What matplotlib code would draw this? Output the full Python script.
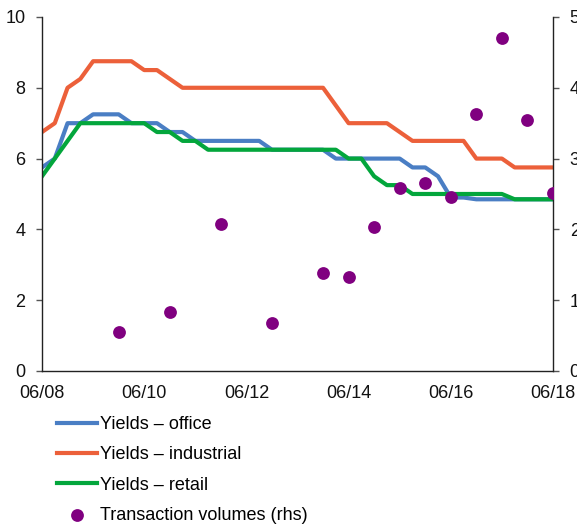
import matplotlib
matplotlib.use("Agg")
import matplotlib.pyplot as plt
import numpy as np

plt.rcParams['font.family'] = ['Liberation Sans', 'DejaVu Sans']

# Quarterly observations, June 2008 to June 2018
quarters = [f"{y}-{m:02d}" for y in range(2008, 2019) for m in (3, 6, 9, 12)]
quarters = quarters[1:-2]

office = [5.75, 6.0, 7.0, 7.0, 7.25, 7.25, 7.25, 7.0, 7.0, 7.0, 6.75, 6.75,
          6.5, 6.5, 6.5, 6.5, 6.5, 6.5, 6.25, 6.25, 6.25, 6.25, 6.25, 6.0,
          6.0, 6.0, 6.0, 6.0, 6.0, 5.75, 5.75, 5.5, 4.9, 4.9, 4.85, 4.85,
          4.85, 4.85, 4.85, 4.85, 4.85]
industrial = [6.75, 7.0, 8.0, 8.25, 8.75, 8.75, 8.75, 8.75, 8.5, 8.5, 8.25, 8.0,
              8.0, 8.0, 8.0, 8.0, 8.0, 8.0, 8.0, 8.0, 8.0, 8.0, 8.0, 7.5,
              7.0, 7.0, 7.0, 7.0, 6.75, 6.5, 6.5, 6.5, 6.5, 6.5, 6.0, 6.0,
              6.0, 5.75, 5.75, 5.75, 5.75]
retail = [5.5, 6.0, 6.5, 7.0, 7.0, 7.0, 7.0, 7.0, 7.0, 6.75, 6.75, 6.5,
          6.5, 6.25, 6.25, 6.25, 6.25, 6.25, 6.25, 6.25, 6.25, 6.25, 6.25, 6.25,
          6.0, 6.0, 5.5, 5.25, 5.25, 5.0, 5.0, 5.0, 5.0, 5.0, 5.0, 5.0,
          5.0, 4.85, 4.85, 4.85, 4.85]

volume_dates = ["2009-12", "2010-12", "2011-12", "2012-12", "2013-12", "2014-06",
                "2014-12", "2015-06", "2015-12", "2016-06", "2016-12", "2017-06",
                "2017-12", "2018-06"]
volumes = [0.55, 0.83, 2.08, 0.68, 1.39, 1.33, 2.04, 2.59, 2.66, 2.46,
           3.63, 4.71, 3.55, 2.51]

tick_labels = ["06/08", "06/10", "06/12", "06/14", "06/16", "06/18"]


def to_year(s):
    y, m = s.split("-")
    return int(y) + (int(m) - 6) / 12.0


xq = np.array([to_year(q) for q in quarters])
xv = np.array([to_year(d) for d in volume_dates])
xticks = [to_year("20" + t[3:] + "-" + t[:2]) for t in tick_labels]

c_office = "#4a7ec4"
c_ind = "#ec603a"
c_retail = "#03a63c"
c_vol = "#800080"

fs = 13

fig = plt.figure(figsize=(5.77, 5.24), dpi=100)
ax = fig.add_axes([0.0728, 0.292, 0.8856, 0.6756])
ax2 = ax.twinx()

lw = 3.0
l1, = ax.plot(xq, office, color=c_office, lw=lw, label="Yields – office")
l2, = ax.plot(xq, industrial, color=c_ind, lw=lw, label="Yields – industrial")
l3, = ax.plot(xq, retail, color=c_retail, lw=lw, label="Yields – retail")
sc = ax2.scatter(xv, volumes, s=85, color=c_vol, zorder=5, linewidths=0,
                 label="Transaction volumes (rhs)")

ax.set_xlim(xticks[0], xticks[-1])
ax.set_ylim(0, 10)
ax2.set_ylim(0, 5)
ax.set_yticks([0, 2, 4, 6, 8, 10])
ax2.set_yticks([0, 1, 2, 3, 4, 5])
ax.set_xticks(xticks)
ax.set_xticklabels(tick_labels)

ax.set_zorder(ax2.get_zorder() - 1)
ax.patch.set_visible(False)

for a in (ax, ax2):
    a.spines['top'].set_visible(False)
    for s in a.spines.values():
        s.set_linewidth(1.0)
        s.set_color("#222222")
    a.tick_params(axis='y', length=4, width=1, color="#555555",
                  labelsize=fs, pad=8, labelcolor="#111111")
ax.tick_params(axis='x', length=0, labelsize=fs, pad=10, labelcolor="#111111")
ax2.spines['left'].set_visible(False)
ax2.spines['bottom'].set_visible(False)
ax.spines['right'].set_visible(False)

fig.legend(handles=[l1, l2, l3, sc], loc="upper left",
           bbox_to_anchor=(0.099, 0.206), frameon=False, fontsize=fs,
           handlelength=2.2, handletextpad=0.17, labelspacing=0.74,
           borderaxespad=0, borderpad=0)

fig.savefig("out.png", dpi=100)
